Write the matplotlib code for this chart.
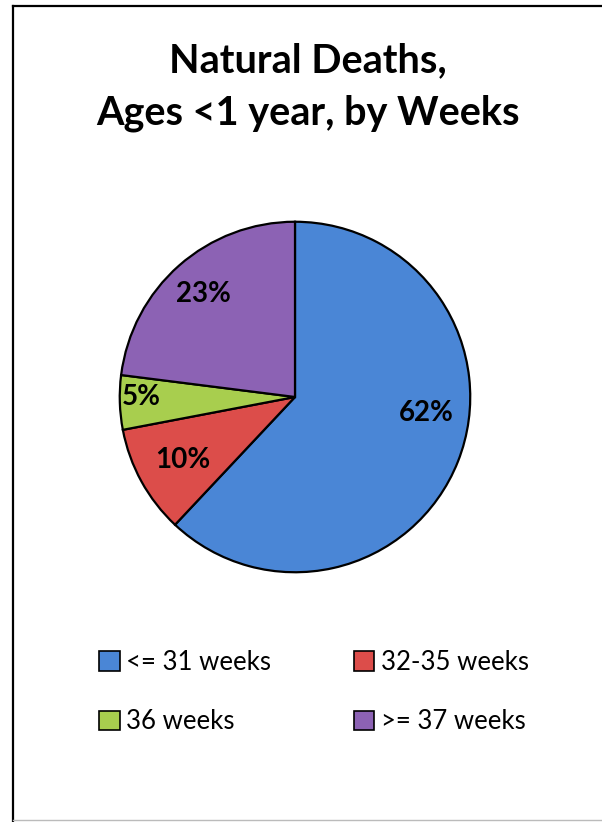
import matplotlib.pyplot as plt
from matplotlib.patches import Patch
from matplotlib.lines import Line2D

# data
labels = ['<= 31 weeks', '32-35 weeks', '36 weeks', '>= 37 weeks']
values = [62, 10, 5, 23]
colors = ['#4A86D6', '#DC4D4A', '#A8CE4E', '#8C62B4']
title = 'Natural Deaths,\nAges <1 year, by Weeks'

plt.rcParams['font.family'] = ['Lato', 'DejaVu Sans']

W, H = 602, 822
fig = plt.figure(figsize=(W / 100, H / 100), dpi=100)

# frame (left + top black, bottom light grey)
fig.add_artist(Line2D([13 / W, 13 / W], [0, 1 - 6 / H], color='black', lw=1.6))
fig.add_artist(Line2D([13 / W, 1], [1 - 6 / H, 1 - 6 / H], color='black', lw=1.6))
fig.add_artist(Line2D([13 / W, 1], [1 - 820 / H, 1 - 820 / H], color='#bbbbbb', lw=1))

fig.text(308 / W, 1 - 87 / H, title, ha='center', va='center', fontsize=28.5,
         fontweight='bold', linespacing=1.5)

# pie
cx, cy, r = 295, 397, 177
ax = fig.add_axes([(cx - r) / W, 1 - (cy + r) / H, 2 * r / W, 2 * r / H])
wedges, texts, autotexts = ax.pie(values, colors=colors, startangle=90, counterclock=False,
                                  autopct='%d%%', pctdistance=0.75,
                                  wedgeprops=dict(edgecolor='black', linewidth=1.6),
                                  textprops=dict(fontsize=20, fontweight='bold', color='black'))
ax.set_aspect('equal')
ax.set_xlim(-1.01, 1.01)
ax.set_ylim(-1.01, 1.01)

# Excel-like label placement
label_xy = [(0.75, -0.09), (-0.64, -0.36), (-0.88, 0.0), (-0.525, 0.59)]
for t, xy in zip(autotexts, label_xy):
    t.set_position(xy)

# legend filled row by row (matplotlib fills column by column)
order = [0, 2, 1, 3]
handles = [Patch(facecolor=colors[i], edgecolor='black', linewidth=1.2) for i in order]
fig.legend(handles, [labels[i] for i in order], ncol=2, loc='center',
           bbox_to_anchor=(314 / W, 1 - 692 / H),
           frameon=False, fontsize=18.5, handlelength=0.8, handleheight=0.8,
           handletextpad=0.25, columnspacing=3.2, labelspacing=1.35)

fig.savefig('out.png', dpi=100)
